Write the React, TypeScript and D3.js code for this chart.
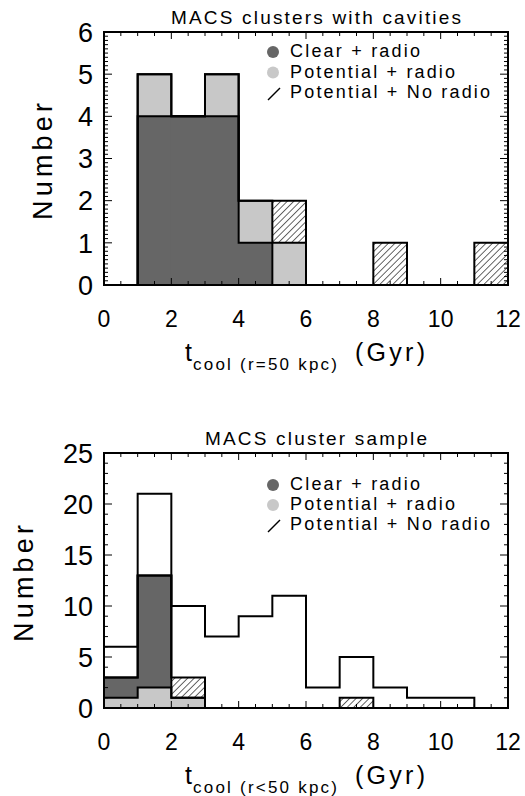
import React from 'react';
import * as d3 from 'd3';

// bin edges (Gyr), bins are 1 Gyr wide
const binStarts = [0, 1, 2, 3, 4, 5, 6, 7, 8, 9, 10, 11];
const xTicks = [0, 2, 4, 6, 8, 10, 12];

// top panel: MACS clusters with cavities (stack order: clear, potential+radio, potential+no radio)
const cavClear = [0, 4, 4, 4, 1, 0, 0, 0, 0, 0, 0, 0];
const cavPotRadio = [0, 1, 0, 1, 1, 1, 0, 0, 0, 0, 0, 0];
const cavPotNoRadio = [0, 0, 0, 0, 0, 1, 0, 0, 1, 0, 0, 1];
const cavYTicks = [0, 1, 2, 3, 4, 5, 6];

// bottom panel: whole MACS sample (stack order: potential+radio, clear, potential+no radio)
const sampleTotal = [6, 21, 10, 7, 9, 11, 2, 5, 2, 1, 1, 0];
const sampleClear = [2, 11, 0, 0, 0, 0, 0, 0, 0, 0, 0, 0];
const samplePotRadio = [1, 2, 1, 0, 0, 0, 0, 0, 0, 0, 0, 0];
const samplePotNoRadio = [0, 0, 2, 0, 0, 0, 0, 1, 0, 0, 0, 0];
const sampleYTicks = [0, 5, 10, 15, 20, 25];

const legendLabels = ['Clear + radio', 'Potential + radio', 'Potential + No radio'];
const legendWidths = [130, 165, 200];

const DARK = '#666666';
const LIGHT = '#c8c8c8';
const FONT = 'Liberation Sans, Arial, sans-serif';

type Layer = { values: number[]; fill: string };

function Panel(props: {
  top: number;
  bottom: number;
  yMax: number;
  yTicks: number[];
  minorStep: number;
  title: string;
  titleWidth: number;
  sub: string;
  layers: Layer[];
  total?: number[];
  numberX: number;
  legendY: number;
  legendGap: number;
}) {
  const { top, bottom, yMax, yTicks, minorStep, layers, total } = props;
  const x = d3.scaleLinear().domain([0, 12]).range([104, 508]);
  const y = d3.scaleLinear().domain([0, yMax]).range([bottom, top]);

  // cumulative stacks
  let cum = binStarts.map(() => 0);
  const stacks = layers.map(l => {
    const lo = cum;
    const hi = cum.map((c, i) => c + l.values[i]);
    cum = hi;
    return { lo, hi, fill: l.fill };
  });

  const step = d3.line<[number, number]>()
    .x(d => x(d[0]))
    .y(d => y(d[1]))
    .curve(d3.curveStepAfter);
  const stepPath = (vals: number[]) => {
    const pts: [number, number][] = binStarts.map((b, i) => [b, vals[i]]);
    pts.push([12, vals[vals.length - 1]]);
    return step(pts) || '';
  };

  const xMinor = d3.range(0, 12.001, 0.5);
  const yMinor = d3.range(0, yMax + 1e-6, minorStep);
  const x0 = x(0), x1 = x(12);

  return (
    <g>
      <text x={316} y={props.top - 8} textAnchor="middle" fontSize={19} fontFamily={FONT}
        textLength={props.titleWidth} lengthAdjust="spacing">{props.title}</text>

      {stacks.map((s, k) =>
        binStarts.map((b, i) => s.hi[i] > s.lo[i] ? (
          <rect key={`f${k}-${i}`} x={x(b) - 0.5} y={y(s.hi[i])} width={x(b + 1) - x(b) + 1}
            height={y(s.lo[i]) - y(s.hi[i])} fill={s.fill} />
        ) : null)
      )}
      {stacks.map((s, k) => (
        <path key={`o${k}`} d={stepPath(s.hi)} fill="none" stroke="#000" strokeWidth={2} />
      ))}
      {total && <path d={stepPath(total)} fill="none" stroke="#000" strokeWidth={2} />}

      {/* ticks */}
      {xMinor.map(v => {
        const len = v % 2 === 0 ? 7 : 4;
        return (
          <g key={`xt${v}`} stroke="#000" strokeWidth={1}>
            <line x1={x(v)} x2={x(v)} y1={bottom} y2={bottom - len} />
            <line x1={x(v)} x2={x(v)} y1={top} y2={top + len} />
          </g>
        );
      })}
      {yMinor.map(v => {
        const major = yTicks.some(t => Math.abs(t - v) < 1e-6);
        const len = major ? 8 : 4;
        return (
          <g key={`yt${v}`} stroke="#000" strokeWidth={1}>
            <line x1={x0} x2={x0 + len} y1={y(v)} y2={y(v)} />
            <line x1={x1} x2={x1 - len} y1={y(v)} y2={y(v)} />
          </g>
        );
      })}
      <rect x={x0} y={top} width={x1 - x0} height={bottom - top} fill="none" stroke="#000" strokeWidth={2} />

      {/* tick labels */}
      {xTicks.map(v => (
        <text key={`xl${v}`} x={x(v)} y={bottom + 42} textAnchor="middle" fontSize={23} fontFamily={FONT}>{v}</text>
      ))}
      {yTicks.map(v => (
        <text key={`yl${v}`} x={93} y={y(v)} dy="0.36em" textAnchor="end" fontSize={27} fontFamily={FONT}>{v}</text>
      ))}

      {/* axis titles */}
      <text transform={`translate(${props.numberX},${(top + bottom) / 2 + 3}) rotate(-90)`} textAnchor="middle"
        fontSize={27} fontFamily={FONT} textLength={117} lengthAdjust="spacing">Number</text>
      <text x={185} y={bottom + 76} fontSize={25} fontFamily={FONT}>t</text>
      <text x={193} y={bottom + 85} fontSize={17} fontFamily={FONT} textLength={144} lengthAdjust="spacing">{props.sub}</text>
      <text x={355} y={bottom + 76} fontSize={25} fontFamily={FONT} textLength={70} lengthAdjust="spacing">(Gyr)</text>

      {/* legend */}
      <circle cx={273} cy={props.legendY - 5} r={6} fill={DARK} />
      <circle cx={273} cy={props.legendY + props.legendGap - 5} r={6} fill={LIGHT} />
      <line x1={268} y1={props.legendY + 2 * props.legendGap + 2} x2={280} y2={props.legendY + 2 * props.legendGap - 10}
        stroke="#000" strokeWidth={1.5} />
      {legendLabels.map((t, i) => (
        <text key={t} x={290} y={props.legendY + i * props.legendGap} fontSize={18} fontFamily={FONT}
          textLength={legendWidths[i]} lengthAdjust="spacing">{t}</text>
      ))}
    </g>
  );
}

export default function App() {
  const hatch = 'url(#hatch)';
  return (
    <div style={{ position: 'absolute', left: 0, top: 0 }}>
      <svg width={525} height={796} style={{ display: 'block', background: '#fff' }}>
        <defs>
          <pattern id="hatch" patternUnits="userSpaceOnUse" width={4.6} height={4.6} patternTransform="rotate(45)">
            <rect width={4.6} height={4.6} fill="#fff" />
            <line x1={0} y1={0} x2={0} y2={4.6} stroke="#000" strokeWidth={1.2} />
          </pattern>
        </defs>
        <Panel top={32} bottom={285} yMax={6} yTicks={cavYTicks} minorStep={0.1}
          title="MACS clusters with cavities" titleWidth={290} sub="cool (r=50 kpc)"
          layers={[{ values: cavClear, fill: DARK }, { values: cavPotRadio, fill: LIGHT }, { values: cavPotNoRadio, fill: hatch }]}
          numberX={52} legendY={57} legendGap={20.5} />
        <Panel top={453} bottom={708} yMax={25} yTicks={sampleYTicks} minorStep={1}
          title="MACS cluster sample" titleWidth={222} sub="cool (r<50 kpc)"
          layers={[{ values: samplePotRadio, fill: LIGHT }, { values: sampleClear, fill: DARK }, { values: samplePotNoRadio, fill: hatch }]}
          total={sampleTotal}
          numberX={33} legendY={490} legendGap={20} />
      </svg>
    </div>
  );
}
